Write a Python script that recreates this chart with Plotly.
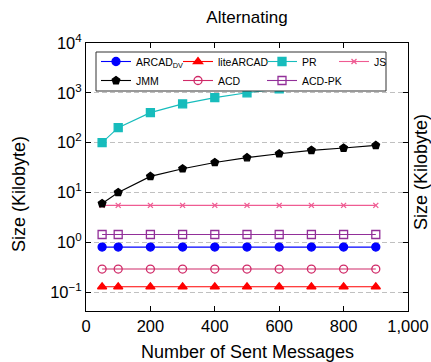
import plotly.graph_objects as go

# ---- data ----
messages = [50, 100, 200, 300, 400, 500, 600, 700, 800, 900]
arcad_dv = [0.8] * 10
lite_arcad = [0.128] * 10
pr = [100, 200, 400, 600, 800, 1000, 1200, 1400, 1600, 1800]
js = [5.5] * 10
jmm = [6, 10, 21, 30, 40, 50, 60, 70, 78, 88]
acd = [0.29] * 10
acd_pk = [1.43] * 10

y_tickvals = [0.1, 1, 10, 100, 1000, 10000]
y_ticktext = ["10<sup>\u22121</sup>", "10<sup>0</sup>", "10<sup>1</sup>",
              "10<sup>2</sup>", "10<sup>3</sup>", "10<sup>4</sup>"]
x_tickvals = [0, 200, 400, 600, 800, 1000]
x_ticktext = ["0", "200", "400", "600", "800", "1,000"]

FONT = "Liberation Sans, Arial, Helvetica, sans-serif"

series = [
    # name, values, color, symbol, size, legend
    ("ARCAD<sub>DV</sub>", arcad_dv, "#0000ff", "circle", 8, "legend"),
    ("liteARCAD", lite_arcad, "#ff0000", "triangle-up", 8, "legend2"),
    ("PR", pr, "#17bcbc", "square", 8, "legend3"),
    ("JS", js, "#ef5b92", "x-thin-open", 5, "legend4"),
    ("JMM", jmm, "#000000", "pentagon", 8, "legend"),
    ("ACD", acd, "#d02a68", "circle-open", 8, "legend2"),
    ("ACD-PK", acd_pk, "#922f99", "square-open", 8, "legend3"),
]

fig = go.Figure()
for name, vals, color, sym, size, leg in series:
    fig.add_trace(go.Scatter(
        x=messages, y=vals, name=name, mode="lines+markers",
        line=dict(color=color, width=1.1),
        marker=dict(color=color, symbol=sym, size=size,
                    line=dict(color=color, width=1.3)),
        legend=leg,
    ))

# plot area: x 86..408, y 43..311
L, R, T, B = 86, 23, 43, 51
W, H = 431, 362
pw, ph = W - L - R, H - T - B

def px_x(px):
    return (px - L) / pw

def px_y(py):
    return (H - B - py) / ph

leg_common = dict(bgcolor="rgba(0,0,0,0)", borderwidth=0,
                  font=dict(family=FONT, size=10.5, color="black"),
                  xanchor="left", yanchor="top", orientation="v",
                  tracegroupgap=0)
ly = px_y(47)
fig.update_layout(
    legend=dict(x=px_x(96), y=ly, **leg_common),
    legend2=dict(x=px_x(178), y=ly, **leg_common),
    legend3=dict(x=px_x(262), y=ly, **leg_common),
    legend4=dict(x=px_x(334), y=ly, **leg_common),
)

fig.add_shape(type="rect", xref="paper", yref="paper",
              x0=px_x(96), x1=px_x(386), y0=px_y(91), y1=px_y(52),
              fillcolor="white", line=dict(color="#333333", width=1),
              layer="above")

fig.update_layout(
    width=W, height=H,
    margin=dict(l=L, r=R, t=T, b=B, autoexpand=False),
    paper_bgcolor="white", plot_bgcolor="white",
    font=dict(family=FONT, color="black"),
    title=dict(text="Alternating", x=(L + pw / 2) / W, xanchor="center",
               y=1 - 17 / H, yanchor="middle",
               font=dict(family=FONT, size=17, color="black")),
    xaxis=dict(range=[0, 1000], tickvals=x_tickvals, ticktext=x_ticktext,
               showgrid=False, zeroline=False, showline=True,
               linecolor="black", linewidth=1, mirror="allticks",
               ticks="inside", ticklen=5, tickcolor="black",
               tickfont=dict(family=FONT, size=16.5, color="black"),
               automargin=False),
    yaxis=dict(type="log", range=[-1.38, 4], tickvals=y_tickvals,
               ticktext=y_ticktext, showgrid=True, gridcolor="#c0c0c0",
               griddash="5px,3px", gridwidth=1, zeroline=False,
               showline=True, linecolor="black", linewidth=1,
               mirror="allticks", ticks="inside", ticklen=5,
               tickcolor="black",
               tickfont=dict(family=FONT, size=16.5, color="black"),
               automargin=False),
)

fig.add_annotation(text="Number of Sent Messages", xref="paper", yref="paper",
                   x=0.5, y=px_y(352), xanchor="center", yanchor="middle",
                   showarrow=False, font=dict(family=FONT, size=18, color="black"))
fig.add_annotation(text="Size (Kilobyte)", xref="paper", yref="paper",
                   x=px_x(19), y=px_y(194), xanchor="center", yanchor="middle",
                   textangle=-90, showarrow=False,
                   font=dict(family=FONT, size=18, color="black"))
fig.add_annotation(text="Size (Kilobyte)", xref="paper", yref="paper",
                   x=px_x(421), y=px_y(172), xanchor="center", yanchor="middle",
                   textangle=-90, showarrow=False,
                   font=dict(family=FONT, size=18, color="black"))

fig.write_html("out.html", config={"displayModeBar": False},
               post_script="document.body.style.margin='0';")
